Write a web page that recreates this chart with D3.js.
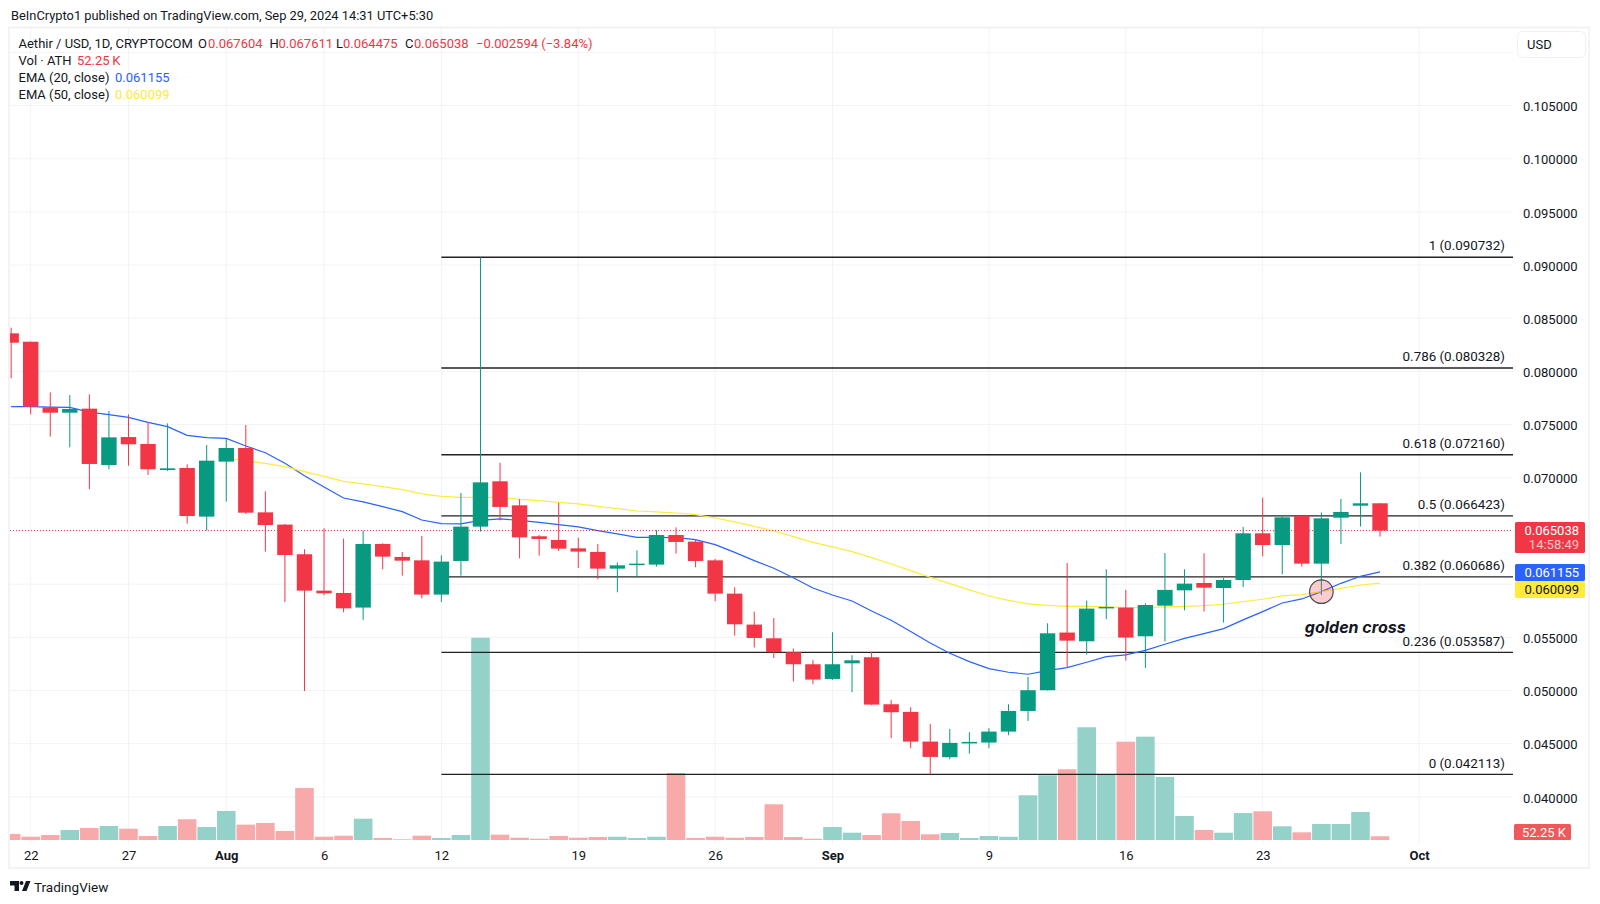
<!DOCTYPE html>
<html>
<head>
<meta charset="utf-8">
<script src="https://cdnjs.cloudflare.com/ajax/libs/d3/7.8.5/d3.min.js"></script>
<style>
  html, body { margin: 0; padding: 0; background: #fff; }
  svg { display: block; }
  text { font-family: Roboto, "Noto Sans", sans-serif; font-size: 13px; fill: #131722; }
</style>
</head>
<body>
<svg width="1600" height="904"></svg>
<script>
// daily candles, 21 Jul - 29 Sep 2024
const startDay = new Date(Date.UTC(2024, 6, 21));
const opens = [
  0.08358, 0.08279, 0.07662, 0.07612, 0.07650, 0.07120, 0.07383, 0.07318, 0.07073, 0.07092, 0.06635,
  0.07152, 0.07280, 0.06675, 0.06560, 0.06281, 0.05939, 0.05917, 0.05780, 0.06378, 0.06256, 0.06224,
  0.05902, 0.06218, 0.06541, 0.06967, 0.06741, 0.06450, 0.06415, 0.06337, 0.06303, 0.06146, 0.06184,
  0.06184, 0.06462, 0.06400, 0.06224, 0.05911, 0.05620, 0.05491, 0.05360, 0.05247,
  0.05109, 0.05256, 0.05313, 0.04871, 0.04799, 0.04520, 0.04373, 0.04511, 0.04511, 0.04614, 0.04808,
  0.05003, 0.05545, 0.05463, 0.05773, 0.05780, 0.05510, 0.05798, 0.05942, 0.06011, 0.05964, 0.06039,
  0.06478, 0.06368, 0.06641, 0.06193, 0.06625, 0.06738, 0.067604
];
const highs = [
  0.08411, 0.08279, 0.07803, 0.07778, 0.07784, 0.07628, 0.07596, 0.07527, 0.07512, 0.07127, 0.07308,
  0.07371, 0.07496, 0.06873, 0.06566, 0.06328, 0.06525, 0.06428, 0.06503, 0.06384, 0.06303, 0.06453,
  0.06271, 0.06857, 0.09073, 0.07142, 0.06798, 0.06462, 0.06766, 0.06437, 0.06378, 0.06205, 0.06318,
  0.06509, 0.06534, 0.06422, 0.06237, 0.05971, 0.05742, 0.05682, 0.05394, 0.05288,
  0.05548, 0.05332, 0.05363, 0.04912, 0.04843, 0.04686, 0.04639, 0.04608, 0.04645, 0.04871, 0.05128,
  0.05632, 0.06199, 0.05845, 0.06140, 0.05946, 0.05820, 0.06293, 0.06140, 0.06290, 0.06058, 0.06538,
  0.06813, 0.06647, 0.06641, 0.06675, 0.06801, 0.07051, 0.067611
];
const lows = [
  0.07935, 0.07596, 0.07387, 0.07286, 0.06892, 0.07080, 0.07114, 0.07026, 0.07064, 0.06569, 0.06503,
  0.06776, 0.06660, 0.06306, 0.05830, 0.04995, 0.05895, 0.05736, 0.05664, 0.06140, 0.06080, 0.05867,
  0.05833, 0.06080, 0.06494, 0.06600, 0.06243, 0.06268, 0.06312, 0.06152, 0.06046, 0.05924, 0.06065,
  0.06165, 0.06287, 0.06159, 0.05839, 0.05516, 0.05404, 0.05306, 0.05084, 0.05062,
  0.05100, 0.04984, 0.04865, 0.04551, 0.04458, 0.04211, 0.04354, 0.04407, 0.04458, 0.04580, 0.04714,
  0.05000, 0.05216, 0.05338, 0.05670, 0.05281, 0.05212, 0.05463, 0.05754, 0.05742, 0.05638, 0.05974,
  0.06262, 0.06093, 0.06165, 0.05898, 0.06378, 0.06541, 0.064475
];
const closes = [
  0.08270, 0.07669, 0.07612, 0.07647, 0.07130, 0.07380, 0.07315, 0.07080, 0.07089, 0.06641, 0.07161,
  0.07280, 0.06672, 0.06556, 0.06274, 0.05939, 0.05914, 0.05773, 0.06378, 0.06259, 0.06221, 0.05902,
  0.06212, 0.06541, 0.06957, 0.06726, 0.06440, 0.06425, 0.06334, 0.06306, 0.06146, 0.06177, 0.06193,
  0.06462, 0.06397, 0.06218, 0.05911, 0.05623, 0.05494, 0.05360, 0.05247, 0.05103,
  0.05247, 0.05284, 0.04868, 0.04796, 0.04520, 0.04376, 0.04508, 0.04517, 0.04614, 0.04808, 0.05003,
  0.05538, 0.05469, 0.05770, 0.05786, 0.05498, 0.05804, 0.05946, 0.06005, 0.05967, 0.06039, 0.06478,
  0.06368, 0.06628, 0.06193, 0.06619, 0.06679, 0.06760, 0.065038
];
// volume in thousands of ATH
const volumes = [
  85, 46, 70, 141, 169, 197, 159, 56, 197, 292, 183,
  409, 216, 240, 127, 733, 46, 61, 300, 28, 10, 61,
  28, 70, 2850, 75, 32, 18, 56, 32, 42, 46, 28,
  46, 944, 28, 46, 32, 42, 503, 42, 18,
  183, 103, 70, 376, 268, 80, 99, 28, 56, 46, 630,
  912, 996, 1588, 930, 1385, 1456, 888, 338, 141, 103, 380,
  404, 193, 108, 225, 225, 395, 52.25
];
const ema20 = [
  0.07669, 0.07669, 0.07665, 0.07662, 0.07618, 0.07593, 0.07568, 0.07521, 0.07481, 0.07399, 0.07377,
  0.07371, 0.07299, 0.07236, 0.07136, 0.07020, 0.06914, 0.06810, 0.06773, 0.06729, 0.06682, 0.06603,
  0.06569, 0.06566, 0.06600, 0.06613, 0.06600, 0.06581, 0.06559, 0.06538, 0.06503, 0.06472, 0.06440,
  0.06440, 0.06437, 0.06419, 0.06372, 0.06299, 0.06221, 0.06149, 0.06061, 0.05964,
  0.05898, 0.05842, 0.05748, 0.05660, 0.05554, 0.05447, 0.05350, 0.05272, 0.05206, 0.05172, 0.05153,
  0.05187, 0.05216, 0.05266, 0.05319, 0.05335, 0.05378, 0.05435, 0.05491, 0.05535, 0.05582, 0.05664,
  0.05742, 0.05823, 0.05861, 0.05930, 0.06008, 0.06074, 0.061155
];
// EMA 50 only shows from 1 Aug on
const ema50 = [
  0.07183, 0.07161, 0.07136, 0.07105, 0.07058, 0.07014, 0.06967, 0.06942, 0.06917, 0.06888, 0.06848,
  0.06826, 0.06816, 0.06816, 0.06816, 0.06798, 0.06785, 0.06769, 0.06754, 0.06732, 0.06710, 0.06688,
  0.06679, 0.06669, 0.06653, 0.06622, 0.06585, 0.06544, 0.06500, 0.06447, 0.06393,
  0.06350, 0.06306, 0.06249, 0.06190, 0.06127, 0.06065, 0.06005, 0.05946, 0.05889, 0.05848, 0.05814,
  0.05801, 0.05792, 0.05792, 0.05786, 0.05780, 0.05780, 0.05786, 0.05792, 0.05798, 0.05811, 0.05836,
  0.05858, 0.05889, 0.05902, 0.05930, 0.05961, 0.05992, 0.060099
];
const ema50Start = new Date(Date.UTC(2024, 7, 1));

const fibLevels = ["1", "0.786", "0.618", "0.5", "0.382", "0.236", "0"];
const fibPrices = [0.090732, 0.080328, 0.07216, 0.066423, 0.060686, 0.053587, 0.042113];
const fibStart = new Date(Date.UTC(2024, 7, 12));

const priceTicks = [0.105, 0.1, 0.095, 0.09, 0.085, 0.08, 0.075, 0.07, 0.055, 0.05, 0.045, 0.04];
const priceGrid = [0.11, 0.105, 0.1, 0.095, 0.09, 0.085, 0.08, 0.075, 0.07, 0.065, 0.06, 0.055, 0.05, 0.045, 0.04];
const timeTicks = [
  new Date(Date.UTC(2024, 6, 22)), new Date(Date.UTC(2024, 6, 27)), new Date(Date.UTC(2024, 7, 1)),
  new Date(Date.UTC(2024, 7, 6)), new Date(Date.UTC(2024, 7, 12)), new Date(Date.UTC(2024, 7, 19)),
  new Date(Date.UTC(2024, 7, 26)), new Date(Date.UTC(2024, 8, 1)), new Date(Date.UTC(2024, 8, 9)),
  new Date(Date.UTC(2024, 8, 16)), new Date(Date.UTC(2024, 8, 23)), new Date(Date.UTC(2024, 9, 1))
];
const timeLabels = ["22", "27", "Aug", "6", "12", "19", "26", "Sep", "9", "16", "23", "Oct"];
const boldLabels = ["Aug", "Sep", "Oct"];

const crossDay = new Date(Date.UTC(2024, 8, 26));
const crossPrice = 0.059295;
const crossLabelDay = new Date(Date.UTC(2024, 8, 25));
const crossLabelPrice = 0.05541;

const GREEN = "#089981", RED = "#f23645", BLUE = "#2962ff", YELLOW = "#ffeb3b";

const dates = d3.utcDay.range(startDay, d3.utcDay.offset(startDay, opens.length));
const candles = dates.map((d, i) => ({
  date: d, open: opens[i], high: highs[i], low: lows[i], close: closes[i], vol: volumes[i],
  up: closes[i] >= opens[i]
}));

const svg = d3.select("svg");
const paneLeft = 10, paneRight = 1513, paneTop = 28, paneBottom = 844;

const x = d3.scaleUtc()
  .domain([new Date(Date.UTC(2024, 6, 22)), new Date(Date.UTC(2024, 8, 23))])
  .range([30.7, 1262.7]);
const y = d3.scaleLinear().domain([0.04, 0.105]).range([796.9, 105.5]);
const yVol = d3.scaleLinear().domain([0, 2850]).range([840, 637.7]);

svg.append("text").attr("x", 11).attr("y", 20).style("font-size", "12.85px")
  .text("BeInCrypto1 published on TradingView.com, Sep 29, 2024 14:31 UTC+5:30");

// frame
svg.append("rect")
  .attr("x", 9).attr("y", 27.5).attr("width", 1580).attr("height", 840.5)
  .attr("fill", "none").attr("stroke", "#eff0f3").attr("stroke-width", 1.5);

svg.append("clipPath").attr("id", "pane").append("rect")
  .attr("x", paneLeft).attr("y", paneTop)
  .attr("width", paneRight - paneLeft).attr("height", paneBottom - paneTop);

const pane = svg.append("g").attr("clip-path", "url(#pane)");

// grid
pane.append("g").selectAll("line").data(priceGrid).join("line")
  .attr("x1", paneLeft).attr("x2", paneRight)
  .attr("y1", d => y(d)).attr("y2", d => y(d))
  .attr("stroke", "#f3f3f5").attr("stroke-width", 1);
pane.append("g").selectAll("line").data(timeTicks).join("line")
  .attr("x1", d => x(d)).attr("x2", d => x(d))
  .attr("y1", paneTop).attr("y2", paneBottom)
  .attr("stroke", "#f3f3f5").attr("stroke-width", 1);

// volume
const volWidth = 18.6;
pane.append("g").selectAll("rect").data(candles).join("rect")
  .attr("x", d => x(d.date) - volWidth / 2)
  .attr("width", volWidth)
  .attr("y", d => yVol(d.vol))
  .attr("height", d => yVol(0) - yVol(d.vol))
  .attr("fill", d => d.up ? "#94d2c9" : "#f8a9a9");

// fib levels
pane.append("g").selectAll("line").data(fibPrices).join("line")
  .attr("x1", x(fibStart)).attr("x2", paneRight)
  .attr("y1", d => y(d)).attr("y2", d => y(d))
  .attr("stroke", "#222").attr("stroke-width", 1.4);

// moving averages
const lineFn = d3.line().x(d => x(d[0])).y(d => y(d[1]));
pane.append("path")
  .datum(dates.map((d, i) => [d, ema20[i]]))
  .attr("fill", "none").attr("stroke", BLUE).attr("stroke-width", 1.2).attr("d", lineFn);
pane.append("path")
  .datum(ema50.map((v, i) => [d3.utcDay.offset(ema50Start, i), v]))
  .attr("fill", "none").attr("stroke", YELLOW).attr("stroke-width", 1.2).attr("d", lineFn);

// last price line
pane.append("line")
  .attr("x1", paneLeft).attr("x2", paneRight)
  .attr("y1", y(closes[closes.length - 1])).attr("y2", y(closes[closes.length - 1]))
  .attr("stroke", RED).attr("stroke-width", 1).attr("stroke-dasharray", "1 2");

// candles
const bodyWidth = 15.4;
const candle = pane.append("g").selectAll("g").data(candles).join("g");
candle.append("line")
  .attr("x1", d => x(d.date)).attr("x2", d => x(d.date))
  .attr("y1", d => y(d.high)).attr("y2", d => y(d.low))
  .attr("stroke", d => d.up ? GREEN : RED).attr("stroke-width", 1);
candle.append("rect")
  .attr("x", d => x(d.date) - bodyWidth / 2)
  .attr("width", bodyWidth)
  .attr("y", d => y(Math.max(d.open, d.close)))
  .attr("height", d => Math.max(1.5, Math.abs(y(d.open) - y(d.close))))
  .attr("fill", d => d.up ? GREEN : RED);

// golden cross marker
svg.append("circle")
  .attr("cx", x(crossDay)).attr("cy", y(crossPrice)).attr("r", 11.8)
  .attr("fill", RED).attr("fill-opacity", 0.25)
  .attr("stroke", "#4a4a4a").attr("stroke-width", 1.2);
svg.append("text")
  .attr("x", x(crossLabelDay) + 3).attr("y", y(crossLabelPrice))
  .attr("font-weight", 700).attr("font-style", "italic")
  .style("font-family", "Inter, sans-serif").style("font-size", "16px").attr("fill", "#111")
  .text("golden cross");

// fib labels
svg.append("g").selectAll("text").data(fibPrices).join("text")
  .attr("x", 1505).attr("y", d => y(d) - 6.8)
  .attr("text-anchor", "end").style("font-size", "13.4px")
  .text((d, i) => fibLevels[i] + " (" + d3.format(".6f")(d) + ")");

// price axis
const priceAxis = svg.append("g").attr("transform", "translate(1517,1)")
  .call(d3.axisRight(y).tickValues(priceTicks).tickSize(0).tickPadding(6).tickFormat(d3.format(".6f")));
priceAxis.select(".domain").remove();
priceAxis.selectAll("text").style("font-size", "13px").attr("fill", "#131722");

// time axis
const timeAxis = svg.append("g").attr("transform", "translate(0,844)")
  .call(d3.axisBottom(x).tickValues(timeTicks).tickSize(0).tickPadding(7)
    .tickFormat((d, i) => timeLabels[i]));
timeAxis.select(".domain").remove();
timeAxis.selectAll("text")
  .style("font-size", "13px").attr("fill", "#131722")
  .attr("font-weight", (d, i) => boldLabels.includes(timeLabels[i]) ? 700 : 400);

// currency button
svg.append("rect")
  .attr("x", 1517.5).attr("y", 31.5).attr("width", 68).attr("height", 26).attr("rx", 5)
  .attr("fill", "#fff").attr("stroke", "#eff0f3");
svg.append("text").attr("x", 1527).attr("y", 48.5).text("USD");

// price tags
function priceTag(top, height, fill) {
  svg.append("rect")
    .attr("x", 1515).attr("y", top).attr("width", 70).attr("height", height).attr("rx", 1.5)
    .attr("fill", fill);
}
priceTag(522, 31, RED);
priceTag(564, 17, BLUE);
priceTag(581, 17, YELLOW);
svg.append("rect").attr("x", 1514).attr("y", 824).attr("width", 57).attr("height", 16).attr("rx", 1.5).attr("fill", "#f0585a");

const tags = [
  ["0.065038", 534.5, "#fff", 1579], ["14:58:49", 549, "#ffc6cb", 1579],
  ["0.061155", 577, "#fff", 1579], ["0.060099", 594, "#131722", 1579], ["52.25 K", 836.5, "#fff", 1566]
];
svg.append("g").selectAll("text").data(tags).join("text")
  .attr("x", d => d[3]).attr("y", d => d[1]).attr("text-anchor", "end")
  .style("fill", d => d[2]).text(d => d[0]);

// legend
const legendRows = [
  [[18.5, "Aethir / USD, 1D, CRYPTOCOM", "#131722"], [198, "O", "#131722"], [208, "0.067604", RED],
   [269.5, "H", "#131722"], [278.5, "0.067611", RED], [336, "L", "#131722"], [343, "0.064475", RED],
   [405, "C", "#131722"], [414, "0.065038", RED], [476, "\u22120.002594 (\u22123.84%)", RED]],
  [[18.5, "Vol \u00b7 ATH", "#131722"], [77, "52.25\u2009K", RED]],
  [[18.5, "EMA (20, close)", "#131722"], [115, "0.061155", BLUE]],
  [[18.5, "EMA (50, close)", "#131722"], [115, "0.060099", "#ffe83b"]]
];
const legendY = [47.5, 64.5, 81.5, 99];
legendRows.forEach((row, r) => {
  svg.append("g").selectAll("text").data(row).join("text")
    .attr("x", d => d[0]).attr("y", legendY[r])
    .style("fill", d => d[2]).text(d => d[1]);
});

// footer logo
svg.append("path")
  .attr("d", "M10 881h9v10h-4.5v-5.5H10z M26 881h4.5l-4 10H22z")
  .attr("fill", "#131722");
svg.append("circle").attr("cx", 21.5).attr("cy", 883).attr("r", 2).attr("fill", "#131722");
svg.append("text").attr("x", 34).attr("y", 892).style("font-size", "13.5px").text("TradingView");
</script>
</body>
</html>
